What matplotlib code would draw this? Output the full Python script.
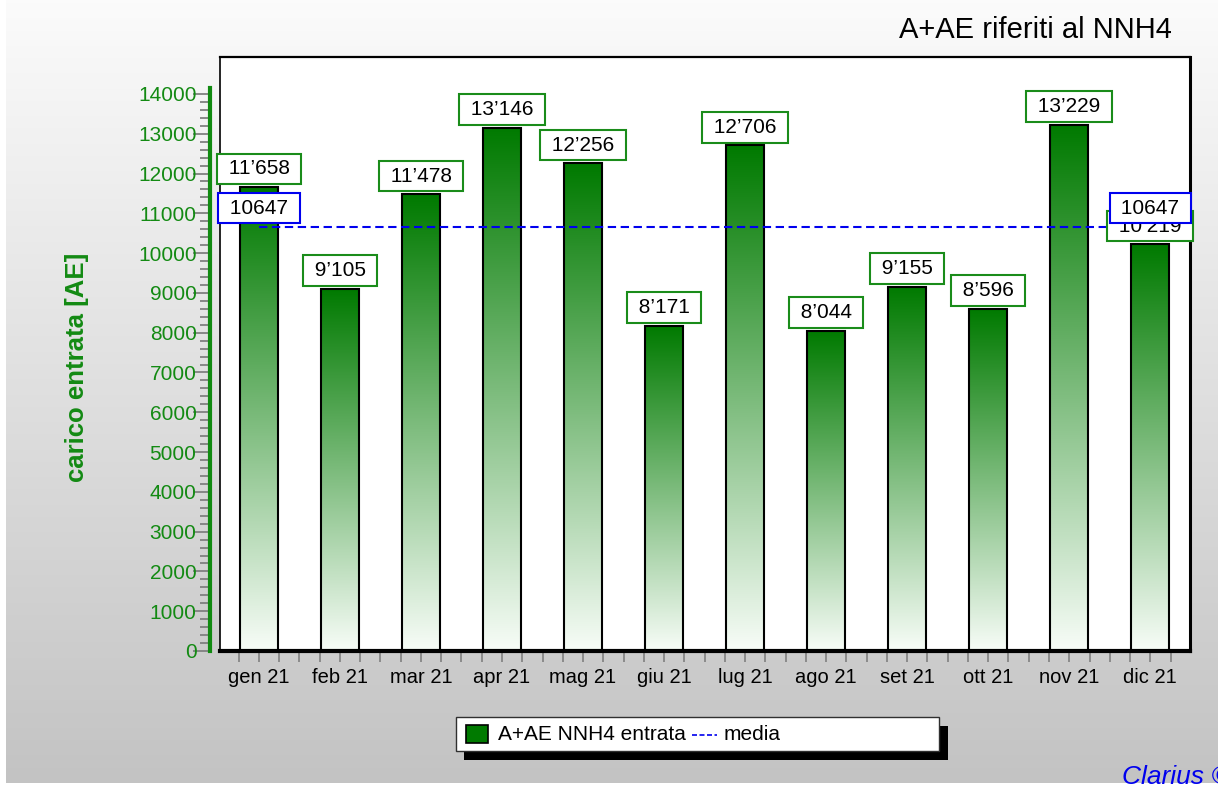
import numpy as np
import matplotlib
matplotlib.use('Agg')
import matplotlib.pyplot as plt
from matplotlib.patches import Rectangle
from matplotlib.ticker import FixedLocator

# ---- data ----
months = ['gen 21', 'feb 21', 'mar 21', 'apr 21', 'mag 21', 'giu 21',
          'lug 21', 'ago 21', 'set 21', 'ott 21', 'nov 21', 'dic 21']
carico = [11658, 9105, 11478, 13146, 12256, 8171,
          12706, 8044, 9155, 8596, 13229, 10219]
yticks = list(range(0, 14001, 1000))
yticks_minor = list(range(0, 14001, 200))
series_label = 'A+AE NNH4 entrata'
mean_label = 'media'
title = 'A+AE riferiti al NNH4'
ylabel = 'carico entrata [AE]'
credit = 'Clarius ©'

plt.rcParams['font.family'] = ['Liberation Sans', 'DejaVu Sans']

GREEN_TXT = '#138a13'
BLUE = '#0000ee'
W, H = 1218, 785
fig = plt.figure(figsize=(W / 100, H / 100), dpi=100)
fig.patch.set_facecolor('white')

# ---- grey gradient background ----
bg = fig.add_axes([0, 0, 1, 1], zorder=-10)
bg.set_xlim(0, W)
bg.set_ylim(H, 0)
bg.axis('off')
t = np.linspace(0, 1, 256)[:, None, None]
c_top = np.array([0.985, 0.985, 0.985])
c_bot = np.array([0.765, 0.765, 0.765])
bg.imshow(c_top + (c_bot - c_top) * t, extent=(6, W, H - 2, 0), aspect='auto')

# ---- main plot ----
ax = fig.add_axes([220 / W, 1 - 651 / H, (1190 - 220) / W, (651 - 57) / H])
ax.set_facecolor('white')
x = np.arange(len(months))
width = 0.47

bars = ax.bar(x, carico, width, facecolor='none', edgecolor='black',
              linewidth=1.5, zorder=3)
g_top = np.array([0.0, 0.478, 0.0])
g_bot = np.array([0.97, 0.99, 0.97])
grad = g_top + (g_bot - g_top) * t
for b in bars:
    ax.imshow(grad, extent=(b.get_x(), b.get_x() + b.get_width(), 0, b.get_height()),
              aspect='auto', origin='upper', zorder=2, interpolation='bilinear')

xmin, xmax = -0.48, 11.49
ax.set_xlim(xmin, xmax)
ax.set_ylim(0, 14929)
ax.set_aspect('auto')

# average line
media = float(np.mean(carico))
ax.plot([x[0], xmax], [media, media], color=BLUE, lw=1.5, dashes=(4, 2.2), zorder=4)


def fmt(v):
    return f'{v:,}'.replace(',', '\u2019')


box_kw = dict(boxstyle='square,pad=0.28', fc='white', lw=1.5)

for xi, v in zip(x, carico):
    ax.annotate(f' {fmt(v)} ', (xi, v), xytext=(0, 6.3), textcoords='offset points',
                ha='center', va='bottom', fontsize=15, color='black', zorder=6,
                bbox=dict(ec='#1a8c1a', **box_kw), annotation_clip=False)

for xi in (x[0], x[-1]):
    ax.annotate(f' {media:.0f} ', (xi, media), xytext=(0, 7), textcoords='offset points',
                ha='center', va='bottom', fontsize=15, color='black', zorder=7,
                bbox=dict(ec=BLUE, **box_kw), annotation_clip=False)

# spines / frame
ax.spines['left'].set_position(('outward', 7.2))
ax.spines['left'].set_bounds(0, 14150)
ax.spines['left'].set_color('#118a11')
ax.spines['left'].set_linewidth(3)
ax.spines['bottom'].set_linewidth(3)
ax.spines['bottom'].set_color('black')
ax.spines['right'].set_linewidth(2.2)
ax.spines['top'].set_linewidth(1.6)
ax.add_patch(Rectangle((0, 0), 1, 1, transform=ax.transAxes, fill=False,
                       ec='black', lw=1.2, zorder=1, clip_on=False))

ax.yaxis.set_major_locator(FixedLocator(yticks))
ax.yaxis.set_minor_locator(FixedLocator(yticks_minor))
ax.tick_params(axis='y', which='major', direction='out', length=12, width=1.3,
               color='#808080', labelcolor=GREEN_TXT, labelsize=15, pad=-2.3)
ax.tick_params(axis='y', which='minor', direction='out', length=7, width=1.3,
               color='#808080')

ax.set_xticks(x)
ax.set_xticklabels(months)
ax.xaxis.set_minor_locator(FixedLocator(np.arange(-0.5, 11.51, 0.25)))
ax.tick_params(axis='x', which='both', direction='out', length=8, width=1.2,
               color='#808080', labelsize=14.5, pad=4)

# ---- texts ----
fig.text(1172 / W, 1 - 30 / H, title, ha='right', va='center', fontsize=21)
fig.text(77 / W, 1 - 367 / H, ylabel, rotation=90, ha='center', va='center',
         fontsize=18.5, fontweight='bold', color=GREEN_TXT)
fig.text(1122 / W, 1 - 765 / H, credit, ha='left', va='top', fontsize=19,
         style='italic', color=BLUE)

# ---- legend ----
ov = fig.add_axes([0, 0, 1, 1], zorder=20)
ov.set_xlim(0, W)
ov.set_ylim(H, 0)
ov.axis('off')
ov.patch.set_visible(False)
ov.add_patch(Rectangle((464, 726), 484, 34, fc='black', ec='none'))
ov.add_patch(Rectangle((456, 717), 483, 34, fc='white', ec='#303030', lw=1.0))
ov.add_patch(Rectangle((466, 725), 22, 18, fc='#007a00', ec='black', lw=1.2))
ov.text(498, 734, series_label, ha='left', va='center', fontsize=15)
ov.plot([692, 717], [735, 735], color=BLUE, lw=1.2, dashes=(3, 1.5))
ov.text(724, 734, mean_label, ha='left', va='center', fontsize=15)

fig.savefig('out.png', dpi=100)
